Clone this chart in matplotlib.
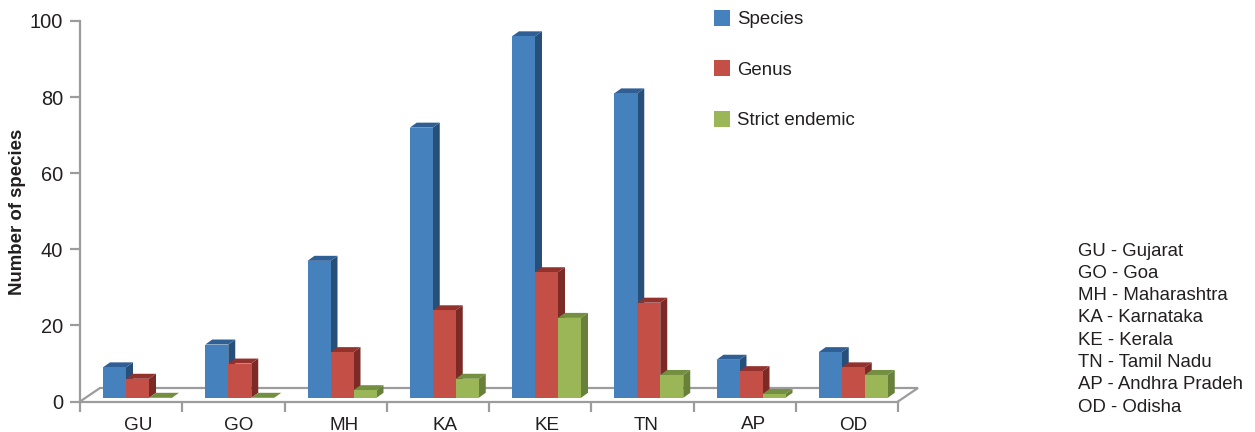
import matplotlib
matplotlib.use("Agg")
import matplotlib.pyplot as plt
from matplotlib.patches import Patch

plt.rcParams['font.family'] = ['Liberation Sans', 'DejaVu Sans']

states = ["GU", "GO", "MH", "KA", "KE", "TN", "AP", "OD"]
species = [8, 14, 36, 71, 95, 80, 10, 12]
genus = [5, 9, 12, 23, 33, 25, 7, 8]
endemic = [0, 0, 2, 5, 21, 6, 1, 6]
series_names = ["Species", "Genus", "Strict endemic"]
state_key = ["GU - Gujarat", "GO - Goa", "MH - Maharashtra", "KA - Karnataka",
             "KE - Kerala", "TN - Tamil Nadu", "AP - Andhra Pradeh", "OD - Odisha"]
yticks = [0, 20, 40, 60, 80, 100]

W, H = 1255, 432
fig = plt.figure(figsize=(W / 100, H / 100), dpi=100, facecolor="white")
L, R, T, B = 80, 898, 21, 401.5
ax = fig.add_axes([L / W, 1 - B / H, (R - L) / W, (B - T) / H])
ax.set_xlim(0, len(states))
ax.set_ylim(0, 100)
PX = (R - L) / len(states)
PY = (B - T) / 100

GREY = "#9c9c9c"
TEXT = "#231f20"
for s in ("top", "right"):
    ax.spines[s].set_visible(False)
for s in ("left", "bottom"):
    ax.spines[s].set_color(GREY)
    ax.spines[s].set_linewidth(1.6)
ax.set_xticks(range(len(states) + 1))
ax.set_xticklabels([])
ax.set_yticks(yticks)
ax.tick_params(axis="both", color=GREY, width=1.6, length=7.2)
ax.tick_params(axis="y", labelsize=14.4, labelcolor=TEXT, pad=5)
ax.set_ylabel("Number of species", fontsize=13.4, fontweight="bold", color=TEXT)
ax.yaxis.set_label_coords((26 - L) / (R - L), 0.499)

# floor of the 3-D box
fx, fy = 20 / PX, 13.5 / PY
ax.plot([0, fx, len(states) + fx, len(states)], [0, fy, fy, 0],
        color=GREY, lw=1.6, clip_on=False, zorder=1, solid_joinstyle="miter")

styles = [("#4581bd", "#264f7a", "#2f5f94"),
          ("#c44f46", "#7b2a26", "#93312d"),
          ("#9bb656", "#67803a", "#738f3f")]
bw = 23 / PX
dx, dy = 7 / PX, 5 / PY
lift = 3.7 / PY
z = 3
for i in range(len(states)):
    for j, vals in enumerate((species, genus, endemic)):
        front, side, top = styles[j]
        x0 = i + bw * (j + 1)
        v = vals[i]
        y1 = lift + v
        x1 = x0 + bw
        ax.fill([x1, x1 + dx, x1 + dx, x1], [lift, lift + dy, y1 + dy, y1],
                color=side, lw=0, clip_on=False, zorder=z)
        ax.fill([x0, x0 + dx, x1 + dx, x1], [y1, y1 + dy, y1 + dy, y1],
                color=top, lw=0, clip_on=False, zorder=z)
        if v > 0:
            ax.bar(x0, v, bw, bottom=lift, align="edge", color=front, lw=0,
                   clip_on=False, zorder=z + 0.5)
        z += 1

# hand-placed category labels, as in the reference
label_dx = [7, 5, 8, 7, 7, 4, 9, 6]
label_y = [425.5, 426, 425.5, 426, 425.5, 425.5, 424.5, 425.5]
for i, name in enumerate(states):
    ax.annotate(name, xy=(i + 0.5, 0), xycoords="data",
                xytext=(label_dx[i] * 0.72, -(label_y[i] - B) * 0.72), textcoords="offset points",
                ha="center", va="center", fontsize=13.6, color=TEXT)

handles = [Patch(facecolor=s[0], edgecolor="none") for s in styles]
fig.legend(handles, series_names, loc="upper left",
           bbox_to_anchor=(714 / W, 1 - 10 / H), bbox_transform=fig.transFigure,
           frameon=False, fontsize=13.4, labelcolor=TEXT, borderpad=0, borderaxespad=0,
           handlelength=0.88, handleheight=0.95, handletextpad=0.34, labelspacing=1.72)

for k, line in enumerate(state_key):
    fig.text(1078 / W, 1 - (251 + 22.3 * k) / H, line, ha="left", va="center",
             fontsize=13.4, color=TEXT)

fig.savefig("out.png", dpi=100)
